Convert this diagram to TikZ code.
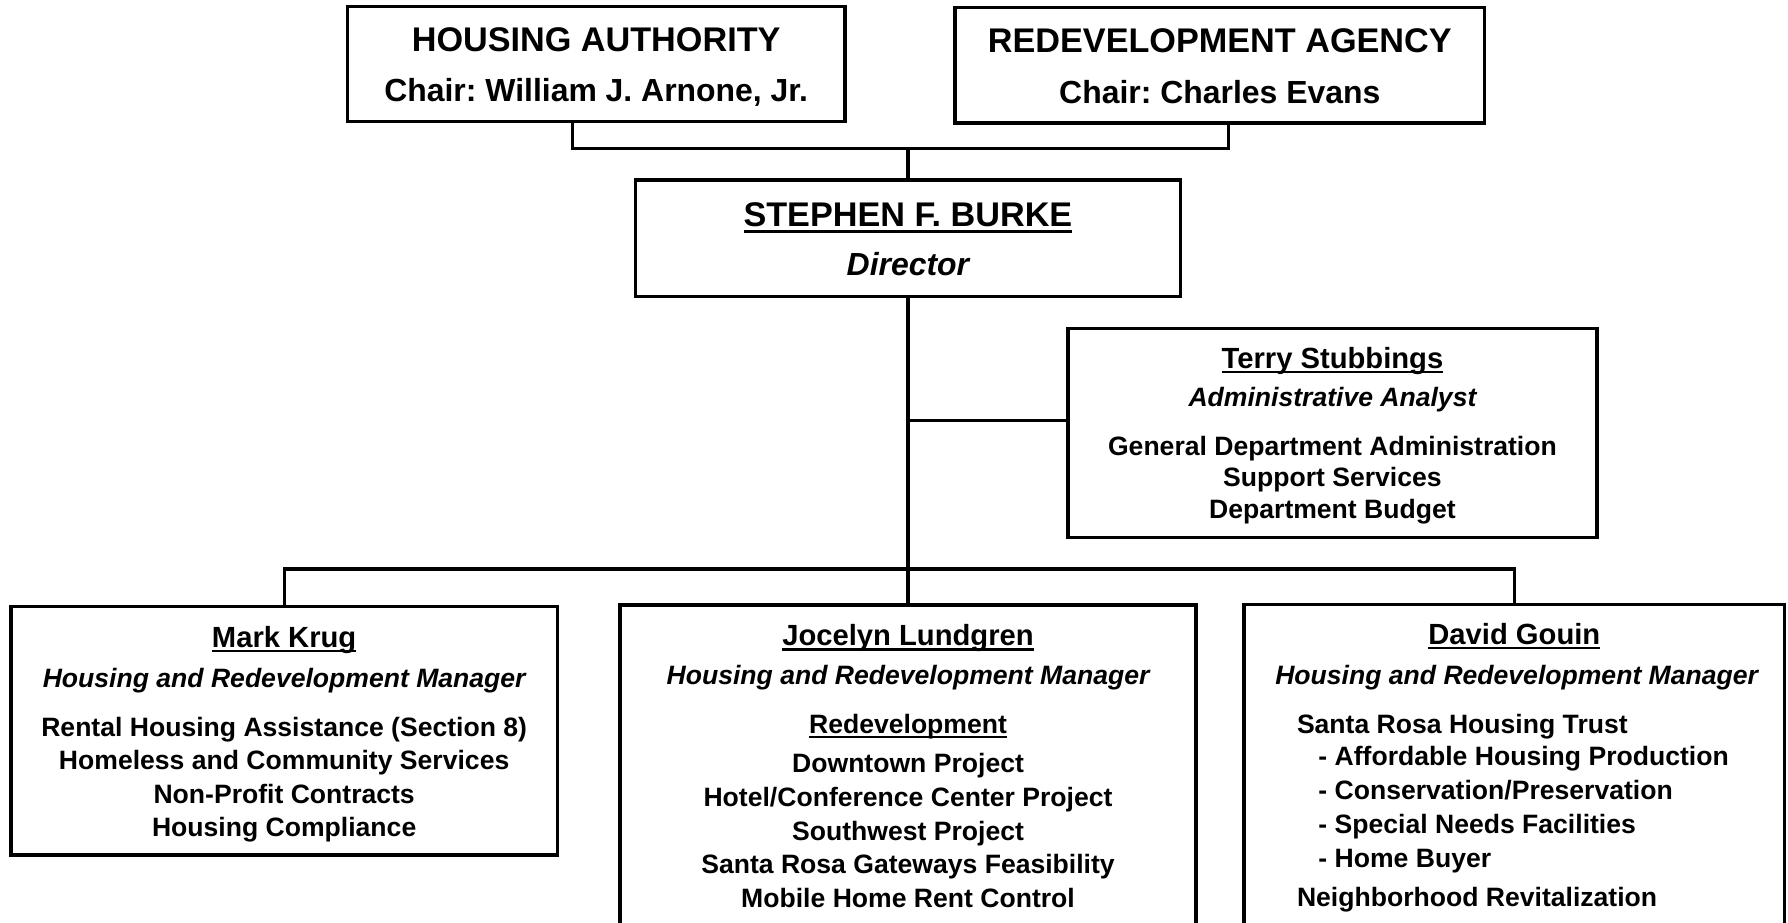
\documentclass[tikz,border=0pt]{standalone}
\usepackage{fontspec}
\setmainfont{Liberation Sans}
\frenchspacing
\newcommand\myul[1]{\setbox0=\hbox{#1}\rlap{\rule[-0.17em]{\wd0}{0.085em}}\box0}
\newcommand\fsz[1]{\fontsize{#1}{#1}\selectfont}
\begin{document}
\begin{tikzpicture}[x=1pt,y=-1pt,
  box/.style={draw,line width=3pt,inner sep=0pt,rectangle},
  conn/.style={line width=2.9pt},
  txtc/.style={anchor=base,inner sep=0pt},
  txtl/.style={anchor=base west,inner sep=0pt},
  ftitle/.style={font=\bfseries\fsz{30}},
  fchair/.style={font=\bfseries\fsz{28}},
  fdir/.style={font=\bfseries\itshape\fsz{28}},
  fname/.style={font=\bfseries\fsz{25.6}},
  frole/.style={font=\bfseries\itshape\fsz{23.3}},
  fitem/.style={font=\bfseries\fsz{23.3}}]
\useasboundingbox (0,0) rectangle (1568,809);
\fill[white] (0,0) rectangle (1568,809);

% boxes
\node[box,minimum width=436.4pt,minimum height=101pt] (ha) at (522.8,56) {};
\node[box,minimum width=464.2pt,minimum height=101.6pt] (ra) at (1069.7,57.2) {};
\node[box,minimum width=477.7pt,minimum height=102.3pt] (burke) at (796.2,209) {};
\node[box,minimum width=464pt,minimum height=183.5pt] (ts) at (1168.5,379.8) {};
\node[box,minimum width=479pt,minimum height=217.8pt] (mk) at (249.2,640.9) {};
\node[box,minimum width=505.4pt,minimum height=310pt] (jl) at (796.3,685.6) {};
\node[box,minimum width=474pt,minimum height=310pt] (dg) at (1328,685) {};

% connectors
\coordinate (hab) at (502,130);
\coordinate (rab) at (1077.3,130);
\draw[conn] (ha.south -| hab) -- (hab) -- (rab) -- (ra.south -| rab);
\draw[conn] (hab -| burke.north) -- (burke.north);
\draw[conn] (burke.south) -- (burke.south |- jl.north);
\coordinate (br) at (796.2,369);
\draw[conn] (br) -- (br -| ts.west);
\coordinate (busl) at (249.2,499);
\coordinate (busr) at (1328,499);
\draw[conn] (mk.north) -- (busl) -- (busr) -- (dg.north);

% Housing Authority
\node[txtc,ftitle] (ha1) at (522.8,45.3) {HOUSING AUTHORITY};
\node[txtc,fchair] (ha2) at (522.8,88.6) {Chair: William J. Arnone, Jr.};
% Redevelopment Agency
\node[txtc,ftitle] (ra1) at (1069.7,46.2) {REDEVELOPMENT AGENCY};
\node[txtc,fchair] (ra2) at (1069.7,91) {Chair: Charles Evans};
% Director
\node[txtc,ftitle] (bu1) at (796.2,198.8) {\myul{STEPHEN F. BURKE}};
\node[txtc,fdir] (bu2) at (796.2,242) {Director};
% Terry
\node[txtc,fname] (ts1) at (1168.5,323) {\myul{Terry Stubbings}};
\node[txtc,frole] (ts2) at (1168.5,356.7) {Administrative Analyst};
\node[txtc,fitem] (ts3) at (1168.5,399.6) {General Department Administration};
\node[txtc,fitem] (ts4) at (1168.5,426.8) {Support Services};
\node[txtc,fitem] (ts5) at (1168.5,454.6) {Department Budget};
% Mark Krug
\node[txtc,fname] (mk1) at (249.2,567.7) {\myul{Mark Krug}};
\node[txtc,frole] (mk2) at (249.2,602.8) {Housing and Redevelopment Manager};
\node[txtc,fitem] (mk3) at (249.2,645.5) {Rental Housing Assistance (Section 8)};
\node[txtc,fitem] (mk4) at (249.2,675.2) {Homeless and Community Services};
\node[txtc,fitem] (mk5) at (249.2,704.6) {Non-Profit Contracts};
\node[txtc,fitem] (mk6) at (249.2,733.8) {Housing Compliance};
% Jocelyn Lundgren
\node[txtc,fname] (jl1) at (796.3,566.5) {\myul{Jocelyn Lundgren}};
\node[txtc,frole] (jl2) at (796.3,600.7) {Housing and Redevelopment Manager};
\node[txtc,fitem] (jl3) at (796.3,643.1) {\myul{Redevelopment}};
\node[txtc,fitem] (jl4) at (796.3,677.6) {Downtown Project};
\node[txtc,fitem] (jl5) at (796.3,707.2) {Hotel/Conference Center Project};
\node[txtc,fitem] (jl6) at (796.3,736.8) {Southwest Project};
\node[txtc,fitem] (jl7) at (796.3,766.4) {Santa Rosa Gateways Feasibility};
\node[txtc,fitem] (jl8) at (796.3,796) {Mobile Home Rent Control};
% David Gouin
\node[txtc,fname] (dg1) at (1328,565) {\myul{David Gouin}};
\node[txtc,frole] (dg2) at (1330,600.7) {Housing and Redevelopment Manager};
\node[txtl,fitem] (dg3) at (1137.2,643.1) {Santa Rosa Housing Trust};
\node[txtl,fitem] (dg4) at (1156,671.6) {- Affordable Housing Production};
\node[txtl,fitem] (dg5) at (1156,701.2) {- Conservation/Preservation};
\node[txtl,fitem] (dg6) at (1156,730.8) {- Special Needs Facilities};
\node[txtl,fitem] (dg7) at (1156,760.4) {- Home Buyer};
\node[txtl,fitem] (dg8) at (1137.2,795.2) {Neighborhood Revitalization};
\end{tikzpicture}
\end{document}
